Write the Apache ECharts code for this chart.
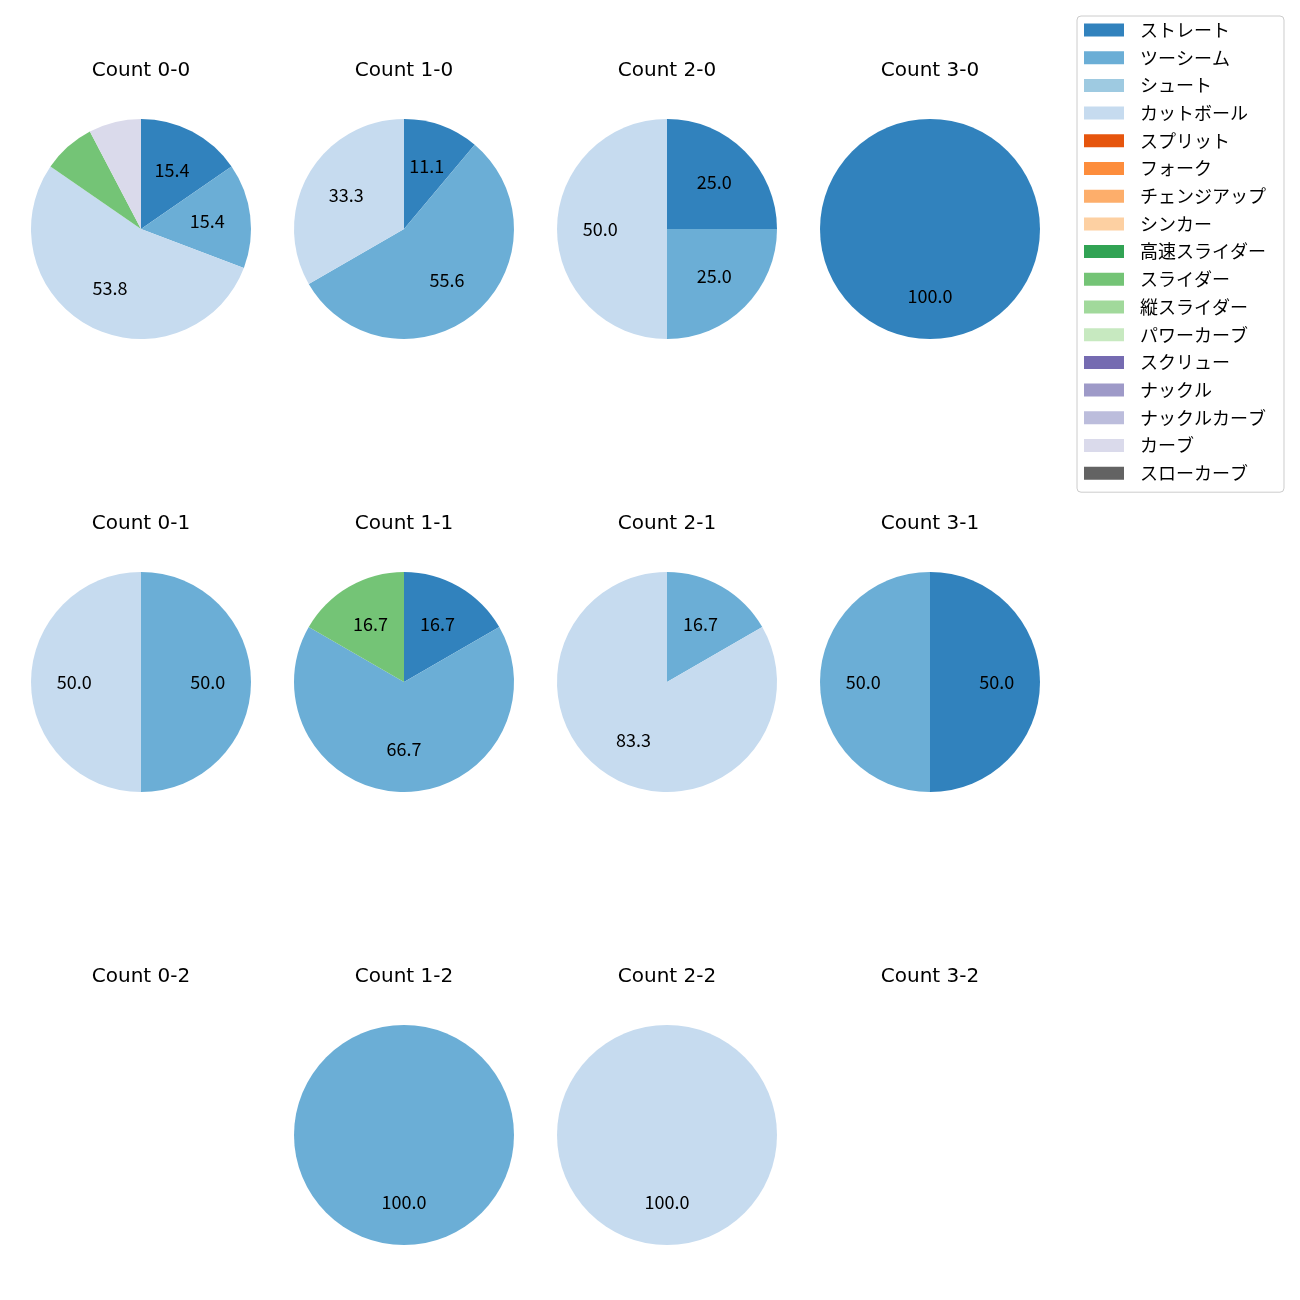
<!DOCTYPE html>
<html><head><meta charset="utf-8">
<script src="https://cdn.jsdelivr.net/npm/echarts@6/dist/echarts.min.js"></script>
<style>html,body{margin:0;padding:0;background:#fff}#c{width:1300px;height:1300px}</style>
</head><body><div id="c"></div>
<script>
const pitchTypes = ['ストレート','ツーシーム','シュート','カットボール','スプリット','フォーク','チェンジアップ','シンカー','高速スライダー','スライダー','縦スライダー','パワーカーブ','スクリュー','ナックル','ナックルカーブ','カーブ','スローカーブ'];
const pitchColors = ['#3182bd','#6baed6','#9ecae1','#c6dbef','#e6550d','#fd8d3c','#fdae6b','#fdd0a2','#31a354','#74c476','#a1d99b','#c7e9c0','#756bb1','#9e9ac8','#bcbddc','#dadaeb','#636363'];
const countTitles = ['Count 0-0','Count 1-0','Count 2-0','Count 3-0','Count 0-1','Count 1-1','Count 2-1','Count 3-1','Count 0-2','Count 1-2','Count 2-2','Count 3-2'];
// pitch counts, aligned with pitchTypes
const count_0_0 = [2,2,0,7,0,0,0,0,0,1,0,0,0,0,0,1,0];
const count_1_0 = [1,5,0,3,0,0,0,0,0,0,0,0,0,0,0,0,0];
const count_2_0 = [1,1,0,2,0,0,0,0,0,0,0,0,0,0,0,0,0];
const count_3_0 = [1,0,0,0,0,0,0,0,0,0,0,0,0,0,0,0,0];
const count_0_1 = [0,1,0,1,0,0,0,0,0,0,0,0,0,0,0,0,0];
const count_1_1 = [1,4,0,0,0,0,0,0,0,1,0,0,0,0,0,0,0];
const count_2_1 = [0,1,0,5,0,0,0,0,0,0,0,0,0,0,0,0,0];
const count_3_1 = [1,1,0,0,0,0,0,0,0,0,0,0,0,0,0,0,0];
const count_0_2 = [0,0,0,0,0,0,0,0,0,0,0,0,0,0,0,0,0];
const count_1_2 = [0,1,0,0,0,0,0,0,0,0,0,0,0,0,0,0,0];
const count_2_2 = [0,0,0,1,0,0,0,0,0,0,0,0,0,0,0,0,0];
const count_3_2 = [0,0,0,0,0,0,0,0,0,0,0,0,0,0,0,0,0];
const allCounts = [count_0_0,count_1_0,count_2_0,count_3_0,count_0_1,count_1_1,count_2_1,count_3_1,count_0_2,count_1_2,count_2_2,count_3_2];

const FONT = 'Noto Sans CJK JP';
const colX = [141, 404, 667, 930];
const rowY = [229, 682, 1135];
const R = 110;

const series = [];
const titles = [];
// legend carrier (invisible)
series.push({
  type: 'pie', center: [-500, -500], radius: [0, 1], silent: true,
  label: {show: false}, labelLine: {show: false},
  data: pitchTypes.map((n, i) => ({name: n, value: 1, itemStyle: {color: pitchColors[i]}}))
});

allCounts.forEach((arr, k) => {
  const cx = colX[k % 4], cy = rowY[Math.floor(k / 4)];
  titles.push({
    text: countTitles[k], left: cx, top: cy - 160 - 9, textAlign: 'center', padding: 0,
    textStyle: {fontFamily: 'DejaVu Sans', fontSize: 20, fontWeight: 'normal', color: '#000', lineHeight: 22}
  });
  const total = arr.reduce((a, b) => a + b, 0);
  if (!total) return;
  const data = [];
  arr.forEach((v, i) => { if (v > 0) data.push({name: pitchTypes[i], value: v, itemStyle: {color: pitchColors[i]}}); });
  series.push({
    type: 'pie', center: [cx, cy], radius: [0, R], startAngle: 90, clockwise: true,
    silent: true, animation: false, avoidLabelOverlap: false,
    itemStyle: {borderWidth: 0},
    label: {show: false}, labelLine: {show: false},
    data: data
  });
  series.push({
    type: 'pie', center: [cx, cy], radius: [0, R * 1.16], startAngle: 90, clockwise: true,
    silent: true, animation: false, avoidLabelOverlap: false,
    itemStyle: {color: 'rgba(0,0,0,0)', borderWidth: 0},
    label: {
      show: true, position: 'inside', fontFamily: FONT, fontSize: 18, color: '#000',
      padding: [0, 0, 3, 0],
      formatter: p => { const pct = p.value / total * 100; return pct < 10 ? '' : pct.toFixed(1); }
    },
    labelLine: {show: false},
    data: data.map(d => ({name: d.name, value: d.value}))
  });
});

const chart = echarts.init(document.getElementById('c'), null, {renderer: 'canvas'});
chart.setOption({
  animation: false,
  backgroundColor: '#fff',
  title: titles,
  legend: {
    data: pitchTypes, orient: 'vertical', left: 1077, top: 16,
    padding: [4, 18, 9, 7], itemWidth: 40, itemHeight: 13, itemGap: 7.7,
    icon: 'rect', borderColor: '#cccccc', borderWidth: 1, borderRadius: 4,
    selectedMode: false,
    textStyle: {fontFamily: FONT, fontSize: 18, color: '#000', lineHeight: 20, padding: [0, 0, 0, 11]}
  },
  series: series
});
</script></body></html>
